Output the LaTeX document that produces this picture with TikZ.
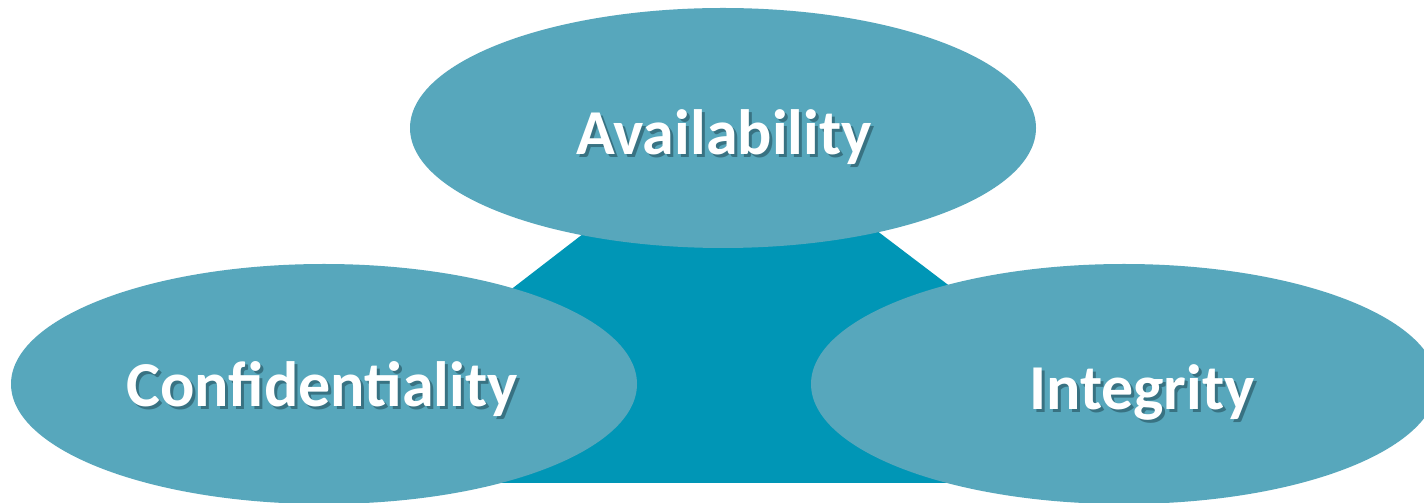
\documentclass[tikz,border=0pt]{standalone}
\usepackage{fontspec}
\setmainfont{Carlito}
\usetikzlibrary{shapes.geometric,calc}
\definecolor{ellfill}{RGB}{87,167,188}
\definecolor{trapfill}{RGB}{0,150,182}
\definecolor{shadowc}{RGB}{20,50,60}
\tikzset{
  petal/.style={ellipse, fill=ellfill, draw=none, inner sep=0pt, minimum width=626pt, minimum height=240pt},
  lbl/.style={text=white, font=\bfseries\fontsize{64}{64}\selectfont, anchor=base, inner sep=0pt},
  shd/.style={text=shadowc, opacity=0.45, font=\bfseries\fontsize{64}{64}\selectfont, anchor=base, inner sep=0pt}
}
\newcommand{\shadowlabel}[3]{%
  \node[shd] at ($(#1)+(3pt,-3pt)$) {#2};
  \node[lbl] (#3) at (#1) {#2};
}
\begin{document}
\begin{tikzpicture}[x=1pt,y=1pt]
\useasboundingbox (0,0) rectangle (1424,503);
\fill[white] (0,0) rectangle (1424,503);
% central trapezoid
\coordinate (tl) at (653,323);
\coordinate (tr) at (810,323);
\coordinate (br) at (1209,20);
\coordinate (bl) at (260,20);
\fill[trapfill] (tl) -- (tr) -- (br) -- (bl) -- cycle;
% ellipses
\node[petal] (avail) at (723,375) {};
\node[petal] (conf) at (324,119) {};
\node[petal] (integ) at (1124,119) {};
% labels
\coordinate (pa) at (724,348);
\coordinate (pc) at (322,96);
\coordinate (pi) at (1142,93);
\shadowlabel{pa}{Availability}{ta}
\shadowlabel{pc}{Confidentiality}{tc}
\shadowlabel{pi}{Integrity}{ti}
\end{tikzpicture}
\end{document}
